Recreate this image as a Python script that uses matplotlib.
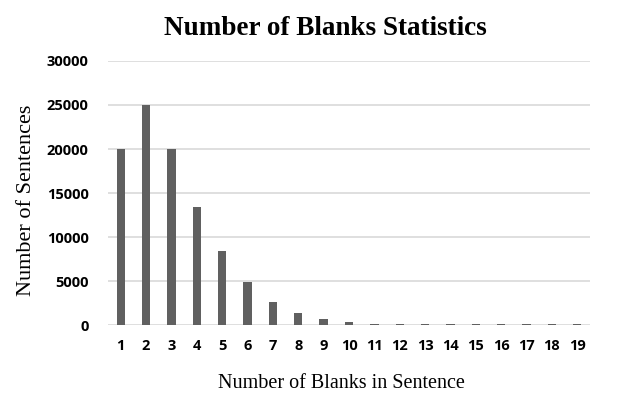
import matplotlib
matplotlib.use("Agg")
import matplotlib.pyplot as plt

categories = list(range(1, 20))
counts = [20000, 25000, 20000, 13400, 8400, 4900, 2600, 1400, 650, 300,
          150, 150, 150, 150, 150, 150, 150, 150, 150]
yticks = [0, 5000, 10000, 15000, 20000, 25000, 30000]

fig = plt.figure(figsize=(6.23, 4.08), dpi=100)
ax = fig.add_axes([0.1734, 0.2034, 0.9470 - 0.1734, 0.8505 - 0.2034])

ax.bar(categories, counts, width=0.33, color="#606060", zorder=3)
ax.set_xlim(0.5, 19.5)
ax.set_ylim(0, 30000)
ax.set_yticks(yticks)
ax.set_xticks(categories)
ax.grid(axis="y", color="#d9d9d9", linewidth=1.2, zorder=0)
for s in ax.spines.values():
    s.set_visible(False)
ax.tick_params(length=0)
for lab in ax.get_xticklabels() + ax.get_yticklabels():
    lab.set_fontfamily("Open Sans")
    lab.set_fontweight("bold")
    lab.set_fontsize(10.5)
ax.tick_params(axis="x", pad=10)
ax.tick_params(axis="y", pad=14)

fig.text(0.523, 0.93, "Number of Blanks Statistics", ha="center", va="center",
         fontfamily="Liberation Serif", fontweight="bold", fontsize=19.5)
fig.text(0.043, 0.51, "Number of Sentences", rotation=90, ha="center", va="center",
         fontfamily="Liberation Serif", fontsize=16)
fig.text(0.548, 0.061, "Number of Blanks in Sentence", ha="center", va="center",
         fontfamily="Liberation Serif", fontsize=14.5)

fig.savefig("out.png", dpi=100)
